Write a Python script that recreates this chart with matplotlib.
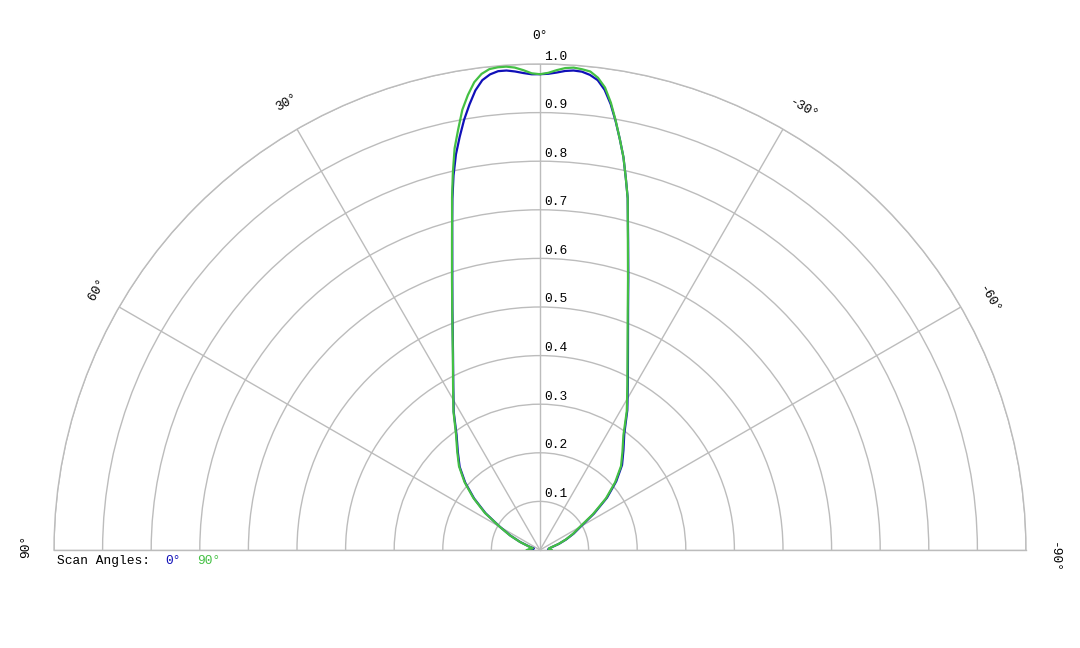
import numpy as np
import matplotlib
matplotlib.use("Agg")
import matplotlib.pyplot as plt
from matplotlib.transforms import offset_copy

# ---- data (angles in degrees, positive = left of 0°) ----
angles_deg = [90, 85, 80, 76, 72, 68, 64, 60, 56, 52, 48, 44, 40, 36, 32, 28, 24, 20, 18, 16,
              15, 14, 13, 12, 11, 10, 9, 8, 7, 6, 5, 4, 3, 2, 1, 0,
              -1, -2, -3, -4, -5, -6, -7, -8, -9, -10, -11, -12, -13, -14, -15,
              -16, -18, -20, -24, -28, -32, -36, -40, -44, -48, -52, -56, -60, -64, -68,
              -72, -76, -80, -85, -90]

r_scan0 = [0.024, 0.019, 0.014, 0.013, 0.024, 0.044, 0.068, 0.095, 0.135, 0.172, 0.207, 0.238, 0.263, 0.292, 0.335, 0.380, 0.440, 0.527, 0.584, 0.655,
           0.698, 0.745, 0.791, 0.832, 0.866, 0.899, 0.928, 0.955, 0.974, 0.984, 0.989, 0.989, 0.986, 0.982, 0.979, 0.979,
           0.980, 0.983, 0.987, 0.989, 0.988, 0.983, 0.974, 0.956, 0.929, 0.896, 0.861, 0.826, 0.785, 0.746, 0.699,
           0.658, 0.588, 0.530, 0.445, 0.385, 0.339, 0.295, 0.267, 0.243, 0.211, 0.175, 0.134, 0.097, 0.077, 0.058,
           0.041, 0.026, 0.019, 0.017, 0.021]

r_scan90 = [0.027, 0.022, 0.017, 0.015, 0.025, 0.045, 0.069, 0.096, 0.137, 0.174, 0.209, 0.240, 0.265, 0.294, 0.336, 0.381, 0.441, 0.528, 0.586, 0.657,
            0.699, 0.748, 0.797, 0.845, 0.882, 0.920, 0.948, 0.972, 0.987, 0.995, 0.997, 0.997, 0.994, 0.988, 0.981, 0.979,
            0.982, 0.988, 0.993, 0.995, 0.993, 0.990, 0.979, 0.961, 0.932, 0.897, 0.861, 0.826, 0.785, 0.746, 0.698,
            0.656, 0.586, 0.528, 0.443, 0.383, 0.337, 0.292, 0.264, 0.240, 0.208, 0.172, 0.131, 0.094, 0.075, 0.057,
            0.040, 0.025, 0.019, 0.018, 0.024]

ring_values = [0.1, 0.2, 0.3, 0.4, 0.5, 0.6, 0.7, 0.8, 0.9, 1.0]
ring_labels = ["0.1", "0.2", "0.3", "0.4", "0.5", "0.6", "0.7", "0.8", "0.9", "1.0"]
spoke_angles = [90, 60, 30, 0, -30, -60, -90]
spoke_labels = ["90°", "60°", "30°", "0°", "-30°", "-60°", "-90°"]
series_names = ["0°", "90°"]

BLUE = "#1010b8"
GREEN = "#44c044"
GRID = "#bcbcbc"
FONT = "Liberation Mono"
FS = 9.3

fig = plt.figure(figsize=(10.8, 6.48), dpi=100)
W, H = 1080, 648
# half-disc: centre (540, 550) px, radius 486 px
cx, cy_img, R = 540, 550, 486
box_w, box_h = 4 * R, 2 * R
box_cy_img = cy_img - R / 2
ax = fig.add_axes([(cx - box_w / 2) / W, (H - (box_cy_img + box_h / 2)) / H, box_w / W, box_h / H],
                  projection="polar")
ax.set_theta_zero_location("N")
ax.set_theta_direction(1)
ax.set_thetamin(-90)
ax.set_thetamax(90)
ax.set_rlim(0, 1)
ax.set_rticks(ring_values)
ax.set_yticklabels([])
ax.set_thetagrids(spoke_angles, labels=[""] * len(spoke_angles))
ax.tick_params(length=0)
ax.grid(True, color=GRID, lw=1.0)
for s in ax.spines.values():
    s.set_color(GRID)
    s.set_linewidth(1.0)

th = np.deg2rad(angles_deg)
ax.plot(th, r_scan0, color=BLUE, lw=1.6, solid_joinstyle="round", zorder=3)
ax.plot(th, r_scan90, color=GREEN, lw=1.6, solid_joinstyle="round", zorder=4)

# radial labels along the 0° spoke
trans = offset_copy(ax.transData, fig=fig, x=4, y=1.5, units="dots")
for rv, lab in zip(ring_values, ring_labels):
    ax.text(0, rv, lab, transform=trans, ha="left", va="bottom",
            fontsize=FS, family=FONT, color="black", clip_on=False)

# angle labels: text starts a little before the spoke point, along its direction
for a, lab in zip(spoke_angles, spoke_labels):
    rad = np.deg2rad(a)
    tr = offset_copy(ax.transData, fig=fig, x=-7.5 * np.cos(rad), y=-7.5 * np.sin(rad), units="dots")
    ax.text(rad, 1.057, lab, transform=tr, rotation=a, rotation_mode="anchor",
            ha="left", va="center", fontsize=FS, family=FONT,
            color="black", clip_on=False)

# legend text
ly = 1 - 561 / H
fig.text(57 / W, ly, "Scan Angles:", fontsize=FS, family=FONT, color="black", va="center")
fig.text(165 / W, ly, series_names[0], fontsize=FS, family=FONT, color=BLUE, va="center")
fig.text(197 / W, ly, series_names[1], fontsize=FS, family=FONT, color=GREEN, va="center")

fig.savefig("out.png", dpi=100, facecolor="white")
